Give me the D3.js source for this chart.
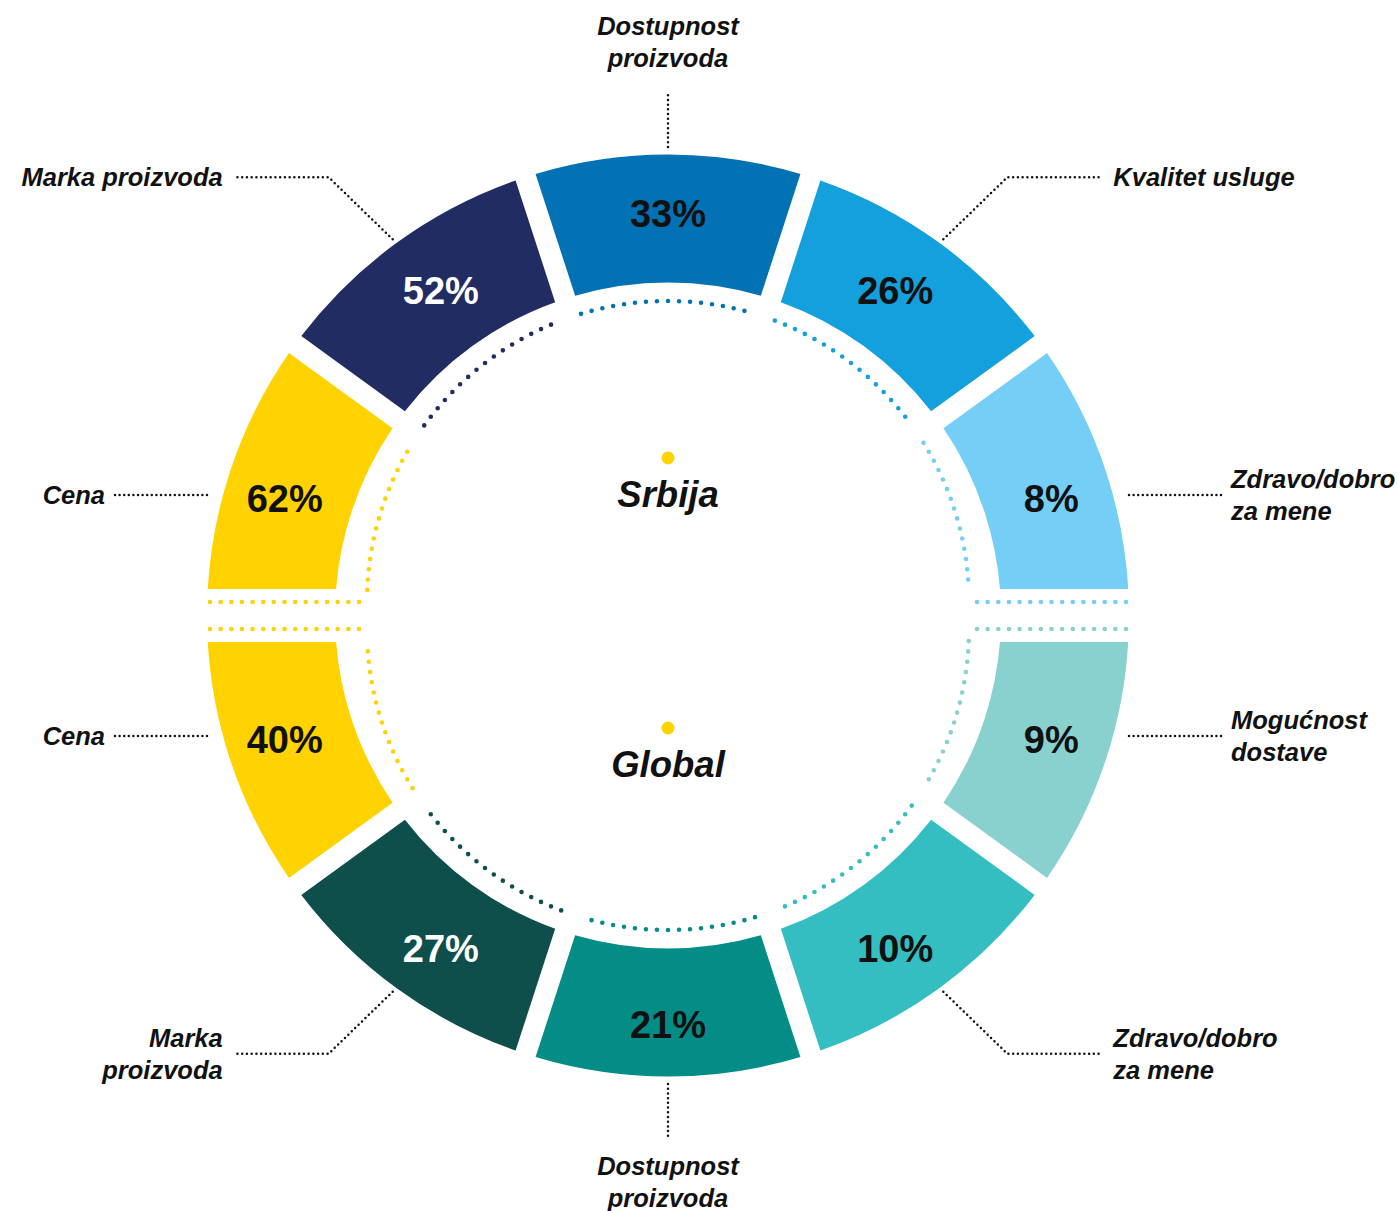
<!DOCTYPE html>
<html>
<head>
<meta charset="utf-8">
<script src="https://cdn.jsdelivr.net/npm/d3@7"></script>
<style>
  html, body { margin: 0; padding: 0; background: #ffffff; }
  svg { display: block; }
</style>
</head>
<body>
<svg id="chart" width="1398" height="1211"></svg>
<script>
// Srbija – upper half, read left to right over the top
const srbijaCategories = ["Cena", "Marka proizvoda", "Dostupnost\nproizvoda", "Kvalitet usluge", "Zdravo/dobro\nza mene"];
const srbijaValues = [62, 52, 33, 26, 8];
const srbijaColors = ["#FFD200", "#212D62", "#0372B4", "#14A0DC", "#74CEF6"];

// Global – lower half, read left to right under the bottom
const globalCategories = ["Cena", "Marka\nproizvoda", "Dostupnost\nproizvoda", "Zdravo/dobro\nza mene", "Mogućnost\ndostave"];
const globalValues = [40, 27, 21, 10, 9];
const globalColors = ["#FFD200", "#0E4F4C", "#048C87", "#35BEC2", "#89D1CF"];

const halfTitles = ["Srbija", "Global"];

// ---- geometry ----
const cx = 668, cy = 615.5;
const R = 461, r0 = 333;          // ring radii
const gap = 21;                   // width of the white gaps between segments
const cut = 26.5;                 // half the horizontal split between the halves
const dotR = 301;                 // radius of the inner dotted ring
const dotShift = 13.5;            // each dotted ring sits on its own half's axis
const sideY = 120.5;              // height of the sideways leaders
const FONT = "'Liberation Sans', Arial, Helvetica, sans-serif";
const TAU = 2 * Math.PI;

const svg = d3.select("#chart");
const defs = svg.append("defs");

const arc = d3.arc()
  .innerRadius(r0)
  .outerRadius(R)
  .padRadius(R)
  .padAngle(gap / R);

const halves = [
  {
    key: "top",
    cats: srbijaCategories, vals: srbijaValues, cols: srbijaColors,
    angle: d3.scaleLinear().domain([0, 5]).range([-Math.PI / 2, Math.PI / 2]),
    clipY: [-R - 20, -cut],
    dotCy: -dotShift,
    labelShift: 0
  },
  {
    key: "bottom",
    cats: globalCategories, vals: globalValues, cols: globalColors,
    angle: d3.scaleLinear().domain([0, 5]).range([3 * Math.PI / 2, Math.PI / 2]),
    clipY: [cut, R + 20],
    dotCy: dotShift,
    labelShift: 7
  }
];

const line = d3.line();

// evenly spaced round dots along a path of the given length
function dotted(sel, color, width, step, len) {
  const n = Math.max(1, Math.round(len / step));
  sel.attr("fill", "none")
    .attr("stroke", color)
    .attr("stroke-width", width)
    .attr("stroke-linecap", "round")
    .attr("stroke-dasharray", `0 ${len / n}`);
}

// where the radial boundary at angle b (about the ring centre) meets the dotted
// circle, expressed as an angle about the dotted circle's own centre
function boundaryOnDots(b, dc) {
  const c = Math.cos(b), s = Math.sin(b);
  const t = -dc * c + Math.sqrt(dc * dc * c * c - dc * dc + dotR * dotR);
  const x = t * s, y = -t * c;
  const a = Math.atan2(x, -(y - dc));
  return a + TAU * Math.round((b - a) / TAU);
}

halves.forEach((h) => {
  const items = h.vals.map((v, i) => {
    const a = h.angle(i), b = h.angle(i + 1);
    return {
      value: v, label: h.cats[i], color: h.cols[i], index: i,
      startAngle: Math.min(a, b), endAngle: Math.max(a, b)
    };
  });

  // clipped ring segments
  defs.append("clipPath").attr("id", "clip-" + h.key)
    .append("rect")
    .attr("x", -R - 20).attr("width", 2 * R + 40)
    .attr("y", h.clipY[0]).attr("height", h.clipY[1] - h.clipY[0]);

  const outer = svg.append("g").attr("transform", `translate(${cx},${cy})`);
  outer.append("g").attr("clip-path", `url(#clip-${h.key})`)
    .selectAll("path").data(items).join("path")
    .attr("d", arc)
    .attr("fill", d => d.color);

  // percentage labels
  const labelPos = (d) => {
    const m = (d.startAngle + d.endAngle) / 2;
    const sx = Math.sin(m), sy = -Math.cos(m);
    if (Math.abs(sx) > 0.9) {
      // sideways segments: level with their category leader
      return [403 * sx, Math.sign(sy) * sideY + 3];
    }
    if (Math.abs(sx) < 0.1) {
      return [0, 402 * sy + h.labelShift];
    }
    // diagonal segments: nudged a little towards the vertical axis
    const lean = 0.019;
    const tilt = sy < 0 ? -Math.sign(sx) * lean : Math.sign(sx) * lean;
    const mm = m + tilt;
    return [397 * Math.sin(mm), -397 * Math.cos(mm) + h.labelShift];
  };
  outer.selectAll("text.value").data(items).join("text")
    .attr("class", "value")
    .attr("transform", d => `translate(${labelPos(d)})`)
    .attr("text-anchor", "middle")
    .attr("dy", "0.36em")
    .style("font-family", FONT)
    .style("font-weight", 700)
    .style("font-size", "38px")
    .attr("fill", d => d3.lab(d.color).l < 40 ? "#ffffff" : "#111111")
    .text(d => d.value + "%");

  // inner dotted ring, one coloured run per segment
  const dg = svg.append("g").attr("transform", `translate(${cx},${cy + h.dotCy})`);
  const halfGap = (gap / 2) / dotR;
  const endPad = 2.3 * Math.PI / 180;
  items.forEach((d) => {
    const isEdge = (a) => Math.abs(Math.sin(a)) > 0.999;
    const a0 = isEdge(d.startAngle)
      ? d.startAngle + endPad
      : boundaryOnDots(d.startAngle, h.dotCy) + halfGap;
    const a1 = isEdge(d.endAngle)
      ? d.endAngle - endPad
      : boundaryOnDots(d.endAngle, h.dotCy) - halfGap;
    const p = d3.path();
    p.arc(0, 0, dotR, a0 - Math.PI / 2, a1 - Math.PI / 2);
    dg.append("path")
      .attr("d", p.toString())
      .call(dotted, d.color, 4.6, 10.7, dotR * Math.abs(a1 - a0));
  });
  // horizontal dotted runs between the halves
  [items[0], items[4]].forEach((d) => {
    const s = d.index === 0 ? -1 : 1;
    const x0 = s * (R - 3), x1 = s * 309;
    dg.append("path")
      .attr("d", line([[x0, 0], [x1, 0]]))
      .call(dotted, d.color, 4.6, 10.7, Math.abs(x1 - x0));
  });

  // category leaders and labels
  const lg = svg.append("g").attr("transform", `translate(${cx},${cy})`);
  items.forEach((d) => {
    const m = (d.startAngle + d.endAngle) / 2;
    const sx = Math.sin(m), sy = -Math.cos(m);
    const lines = d.label.split("\n");
    let pts, tx, ty, anchor;
    if (Math.abs(sx) < 0.1) {
      // straight up / down
      const dir = sy < 0 ? -1 : 1;
      pts = [[0, dir * (R + 7.5)], [0, dir * (R + 64)]];
      anchor = "middle";
      tx = 0;
      ty = dir < 0 ? -(R + 87.5) - (lines.length - 1) * 32 : R + 98;
    } else if (Math.abs(sx) > 0.9) {
      // sideways, level with the segment
      const hs = Math.sign(sx);
      const y = Math.sign(sy) * sideY;
      pts = [[hs * R, y], [hs * (R + 92), y]];
      anchor = hs < 0 ? "end" : "start";
      tx = hs * (R + 92 + 10);
      ty = y + 9 - (lines.length - 1) * 16;
    } else {
      // diagonal with an elbow
      const hs = Math.sign(sx), vs = Math.sign(sy);
      const p0 = [(R + 4) * sx + hs * 2, (R + 4) * sy];
      const p1 = [p0[0] + hs * 64, p0[1] + vs * 62];
      const p2 = [p1[0] + hs * 96, p1[1]];
      pts = [p0, p1, p2];
      anchor = hs < 0 ? "end" : "start";
      tx = p2[0] + hs * 10;
      ty = p2[1] + 9 - (lines.length - 1) * 16;
    }
    const len = d3.pairs(pts).reduce((s, [a, b]) => s + Math.hypot(b[0] - a[0], b[1] - a[1]), 0);
    lg.append("path")
      .attr("d", line(pts))
      .call(dotted, "#111111", 2.5, 4.7, len);
    const t = lg.append("text")
      .attr("text-anchor", anchor)
      .style("font-family", FONT)
      .style("font-weight", 700)
      .style("font-style", "italic")
      .style("font-size", "25.5px")
      .attr("fill", "#111111");
    lines.forEach((ln, k) => {
      t.append("tspan").attr("x", tx).attr("y", ty + k * 32).text(ln);
    });
  });
});

// half titles with their marker dots
const cg = svg.append("g").attr("transform", `translate(${cx},${cy})`);
const titleDotY = [-157.5, 112.5];
const titleY = [-108.5, 161.5];
halfTitles.forEach((t, i) => {
  cg.append("circle").attr("cx", 0).attr("cy", titleDotY[i]).attr("r", 6.5).attr("fill", "#FFD200");
  cg.append("text")
    .attr("x", 0).attr("y", titleY[i])
    .attr("text-anchor", "middle")
    .style("font-family", FONT)
    .style("font-weight", 700)
    .style("font-style", "italic")
    .style("font-size", "36.5px")
    .attr("fill", "#111111")
    .text(t);
});
</script>
</body>
</html>
